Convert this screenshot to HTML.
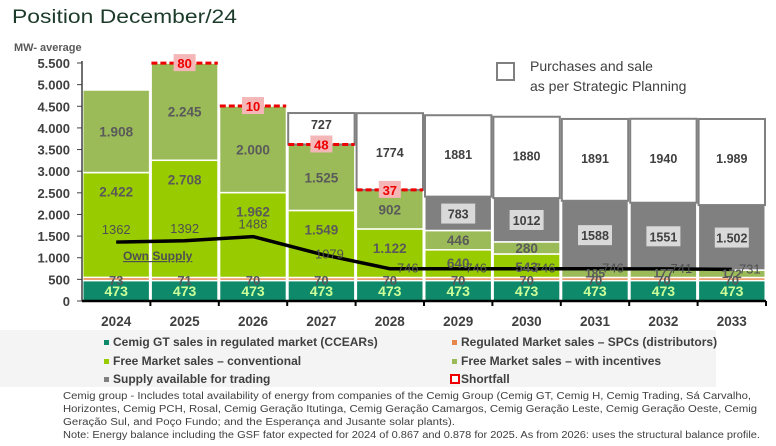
<!DOCTYPE html>
<html><head><meta charset="utf-8"><style>
body{margin:0;background:#fff;font-family:"Liberation Sans",sans-serif;}
#wrap{position:relative;width:776px;height:446px;overflow:hidden;background:#fff;}
</style></head><body>
<div id="wrap">
<svg id="chart" width="776" height="446" xmlns="http://www.w3.org/2000/svg">
<rect x="0" y="330" width="716" height="57" fill="#f4f4f4"/>
<text x="12" y="23" font-size="19" fill="#1d3b2a" textLength="225" lengthAdjust="spacingAndGlyphs">Position December/24</text>
<text x="14" y="51" font-size="11" font-weight="bold" fill="#595959">MW- average</text>
<rect x="497" y="63" width="17" height="17" fill="#fff" stroke="#808080" stroke-width="2"/>
<text x="530" y="71" font-size="14" fill="#404040">Purchases and sale</text>
<text x="530" y="91" font-size="14" fill="#404040">as per Strategic Planning</text>
<g id="grid"></g><g id="bars"></g><g id="line"></g><g id="labels"></g><g id="axes"></g>
<g font-size="12" font-weight="bold" fill="#404040">
<rect x="104" y="340" width="5" height="5" fill="#0e8a6a"/><text x="113" y="346">Cemig GT sales in regulated market (CCEARs)</text>
<rect x="452" y="340" width="5" height="5" fill="#e8874a"/><text x="461" y="346">Regulated Market sales – SPCs (distributors)</text>
<rect x="104" y="359" width="5" height="5" fill="#99cc00"/><text x="113" y="365">Free Market sales – conventional</text>
<rect x="452" y="359" width="5" height="5" fill="#9bbb59"/><text x="461" y="365">Free Market sales – with incentives</text>
<rect x="104" y="377" width="5" height="5" fill="#808080"/><text x="113" y="383">Supply available for trading</text>
<rect x="451" y="375" width="8" height="8" fill="#fff" stroke="#e00" stroke-width="2"/><text x="461" y="383">Shortfall</text>
</g>
<g font-size="10" fill="#404040">
<text x="63" y="399" textLength="688" lengthAdjust="spacingAndGlyphs">Cemig group - Includes total availability of energy from companies of the Cemig Group (Cemig GT, Cemig H, Cemig Trading, Sá Carvalho,</text>
<text x="63" y="412" textLength="694" lengthAdjust="spacingAndGlyphs">Horizontes, Cemig PCH, Rosal, Cemig Geração Itutinga, Cemig Geração Camargos, Cemig Geração Leste, Cemig Geração Oeste, Cemig</text>
<text x="63" y="425" textLength="392" lengthAdjust="spacingAndGlyphs">Geração Sul, and Poço Fundo; and the Esperança and Jusante solar plants).</text>
<text x="63" y="438" textLength="697" lengthAdjust="spacingAndGlyphs">Note:  Energy balance including the GSF fator expected for 2024 of 0.867 and 0.878 for 2025. As from 2026: uses the structural balance profile.</text>
</g>
</svg>
</div>
<script>
const years=["2024","2025","2026","2027","2028","2029","2030","2031","2032","2033"];
const ccear=[473,473,473,473,473,473,473,473,473,473];
const regulated=[73,71,70,70,70,70,70,70,70,70];
const freeConv=[2422,2708,1962,1549,1122,640,543,0,0,0];
const freeInc=[1908,2245,2000,1525,902,446,280,185,177,172];
const available=[0,0,0,0,0,783,1012,1588,1551,1502];
const purchases=[0,0,0,727,1774,1881,1880,1891,1940,1989];
const shortfall=[0,80,10,48,37,0,0,0,0,0];
const ownSupply=[1362,1392,1488,1079,746,746,746,746,741,731];
const purchLabels=["","","","727","1774","1881","1880","1891","1940","1.989"];
const availLabels=["","","","","","783","1012","1588","1551","1.502"];
const convLabels=["2.422","2.708","1.962","1.549","1.122","640","543","","",""];
const incLabels=["1.908","2.245","2.000","1.525","902","446","280","185","177","172"];
const yTicks=[0,500,1000,1500,2000,2500,3000,3500,4000,4500,5000,5500];
const yTickLabels=["0","500","1.000","1.500","2.000","2.500","3.000","3.500","4.000","4.500","5.000","5.500"];

const NS="http://www.w3.org/2000/svg";
const X0=82,X1=766,Y0=301,K=(301-63)/5500;
const cw=(X1-X0)/years.length;
function y(v){return Y0-v*K;}
function xL(i){return X0+i*cw;}
function xC(i){return X0+(i+0.5)*cw;}
function mk(tag,attrs,parent,txt){const e=document.createElementNS(NS,tag);for(const k in attrs)e.setAttribute(k,attrs[k]);if(txt!==undefined)e.textContent=txt;document.getElementById(parent).appendChild(e);return e;}

yTicks.forEach((t,i)=>{
  const e=mk('text',{x:70,y:y(t)+5,'text-anchor':'end','font-size':13,'font-weight':'bold',fill:'#404040'},'axes',yTickLabels[i]);
  
  
  const tk=mk('line',{x1:77,x2:82,y1:y(t),y2:y(t),stroke:'#404040','stroke-width':1},'axes');
  
  
});
let ya=mk('line',{x1:82,x2:82,y1:y(5500)-2,y2:Y0,stroke:'#404040','stroke-width':1.5},'axes');


let xa=mk('line',{x1:X0,x2:X1,y1:Y0,y2:Y0,stroke:'#000','stroke-width':2.5},'axes');


years.forEach((yr,i)=>{
  const tk=mk('line',{x1:xL(i+1),x2:xL(i+1),y1:Y0,y2:Y0+5,stroke:'#000','stroke-width':2},'axes');
  
  
  const t=mk('text',{x:xC(i),y:326,'text-anchor':'middle','font-size':13.5,'font-weight':'bold',fill:'#404040'},'axes',yr);
  
  
});

const series=[[ccear,'#0e8a6a','bar-ccear'],[regulated,'#e8874a','bar-regulated'],[freeConv,'#99cc00','bar-free-conventional'],[freeInc,'#9bbb59','bar-free-incentives'],[available,'#808080','bar-available'],[purchases,'#ffffff','bar-purchases']];
years.forEach((yr,i)=>{
  let base=0;
  series.forEach(([arr,col,nm],s)=>{
    const v=arr[i]; if(!v){return;}
    const isP=s===5;
    const r=mk('rect',{x:xL(i)+(isP?1:0.75),y:y(base+v),width:cw-(isP?2:1.5),height:v*K,fill:col,stroke:isP?'#808080':'#fff','stroke-width':isP?2:1.5},'bars');
    
    
    const mid=y(base+v/2);
    if(s===0){const t=mk('text',{x:xC(i),y:mid+5,'text-anchor':'middle','font-size':14,'font-weight':'bold',fill:'#ccff99'},'labels',String(v));}
    if(s===1){const t=mk('text',{x:xC(i),y:mid+6,'text-anchor':'middle','font-size':13,'font-weight':'bold',fill:'#595959'},'labels',String(v));}
    if(s===2&&convLabels[i]){const t=mk('text',{x:xC(i),y:y(base+v)+ (v>900?24:18),'text-anchor':'middle','font-size':13.5,'font-weight':'bold',fill:'#5a5a5a'},'labels',convLabels[i]);}
    if(s===3){const t=mk('text',{x:xC(i),y:v>250?mid+5:mid+4,'text-anchor':'middle','font-size':v>250?13.5:12,'font-weight':'bold',fill:'#5a5a5a'},'labels',incLabels[i]);}
    if(s===4){const b=mk('rect',{x:xC(i)-17,y:mid-10,width:34,height:20,fill:'#d9d9d9'},'labels');
      const t=mk('text',{x:xC(i),y:mid+5,'text-anchor':'middle','font-size':12.5,'font-weight':'bold',fill:'#404040'},'labels',availLabels[i]);}
    if(s===5){const t=mk('text',{x:xC(i),y:y(base+v)+ (i===3?16:44),'text-anchor':'middle','font-size':12.5,'font-weight':'bold',fill:'#404040'},'labels',purchLabels[i]);}
    if(s===3&&shortfall[i]){
      const top=base+v; const yy=y(top);
      const l=mk('line',{x1:xL(i)+1,x2:xL(i+1)-1,y1:yy,y2:yy,stroke:'#e00','stroke-width':3,'stroke-dasharray':'6,3'},'labels');
      
      
      const b=mk('rect',{x:xC(i)-11,y:yy-9,width:22,height:17,fill:'#f4b6b6'},'labels');
      
      
      const t=mk('text',{x:xC(i),y:yy+5,'text-anchor':'middle','font-size':13,'font-weight':'bold',fill:'#e00'},'labels',String(shortfall[i]));
      
      
    }
    base+=v;
  });
});

const pts=ownSupply.map((v,i)=>xC(i)+','+y(v)).join(' ');
const pl=mk('polyline',{points:pts,fill:'none',stroke:'#000','stroke-width':3.5},'line');


ownSupply.forEach((v,i)=>{
  const t=mk('text',{x:xC(i)+(i<3?0:i===3?8:18),y:y(v)-(i<3?8:-4),'text-anchor':'middle','font-size':13,fill:'#505050'},'line',String(v));
  
  
});
const os=mk('text',{x:123,y:260,'font-size':12,'font-weight':'bold',fill:'#505050','text-decoration':'underline'},'line','Own Supply');


</script>
</body></html>
